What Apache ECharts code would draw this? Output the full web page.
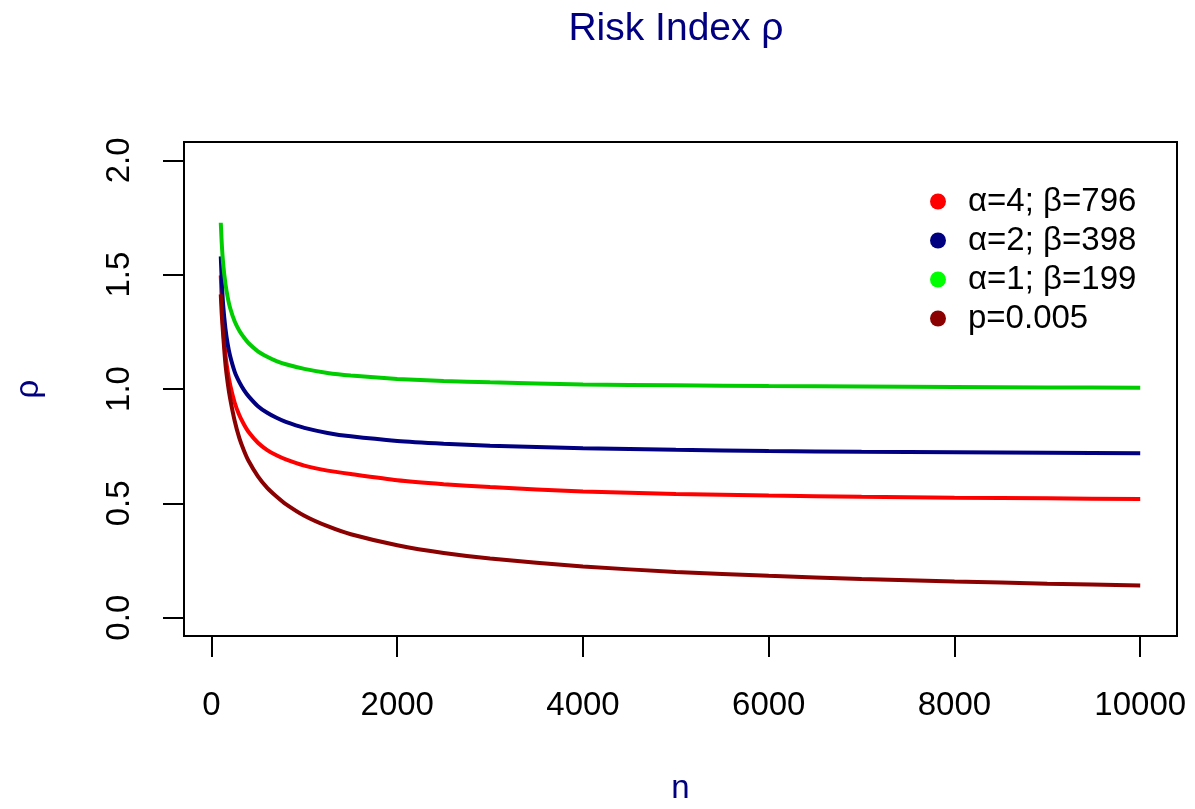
<!DOCTYPE html>
<html>
<head>
<meta charset="utf-8">
<title>Risk Index</title>
<script src="https://cdn.jsdelivr.net/npm/echarts@6.0.0/dist/echarts.min.js"></script>
<style>
  html, body { margin: 0; padding: 0; background: #fff; }
  #chart { width: 1195px; height: 809px; }
</style>
</head>
<body>
<div id="chart"></div>
<script>
// sample sizes n
var nValues = [100, 110, 125, 150, 175, 200, 250, 300, 350, 400, 500, 600, 700, 800,
  1000, 1250, 1500, 2000, 2500, 3000, 4000, 5000, 6000, 7000, 8000, 9000, 10000];

// rho
var rhoA4 = [1.497, 1.39, 1.27, 1.15, 1.075, 1.02, 0.94, 0.885, 0.845, 0.812, 0.765, 0.733, 0.71, 0.692,
  0.665, 0.643, 0.628, 0.601, 0.584, 0.571, 0.552, 0.541, 0.534, 0.529, 0.525, 0.522, 0.519];
var rhoA2 = [1.58, 1.48, 1.37, 1.265, 1.195, 1.145, 1.075, 1.03, 0.995, 0.968, 0.925, 0.896, 0.874, 0.856,
  0.830, 0.808, 0.793, 0.773, 0.761, 0.752, 0.741, 0.734, 0.729, 0.7255, 0.723, 0.721, 0.719];
var rhoA1 = [1.727, 1.64, 1.55, 1.46, 1.40, 1.355, 1.295, 1.255, 1.225, 1.20, 1.165, 1.141, 1.122, 1.108,
  1.088, 1.070, 1.059, 1.044, 1.035, 1.029, 1.020, 1.016, 1.013, 1.011, 1.009, 1.007, 1.005];
var rhoP = [1.414, 1.33, 1.24, 1.11, 1.025, 0.96, 0.86, 0.785, 0.73, 0.685, 0.618, 0.568, 0.53, 0.497,
  0.446, 0.40, 0.365, 0.317, 0.283, 0.259, 0.224, 0.200, 0.183, 0.169, 0.158, 0.149, 0.141];

var seriesNames = ["α=4; β=796", "α=2; β=398", "α=1; β=199", "p=0.005"];
var xTicks = [0, 2000, 4000, 6000, 8000, 10000];
var yTicks = [0, 0.5, 1, 1.5, 2];

var lineColors = ["#ff0000", "#000080", "#00cd00", "#8b0000"];
var dotColors = ["#ff0000", "#000080", "#00ff00", "#8b0000"];
var font = "Liberation Sans, Arial, Helvetica, sans-serif";

function pairs(ys) {
  return nValues.map(function (n, i) { return [n, ys[i]]; });
}

var myChart = echarts.init(document.getElementById("chart"));
var allData = [rhoA4, rhoA2, rhoA1, rhoP];

myChart.setOption({
  animation: false,
  backgroundColor: "#fff",
  title: {
    text: "Risk Index ρ",
    left: 676,
    top: 10,
    padding: 0,
    textAlign: "center",
    textStyle: { color: "#000080", fontSize: 39, fontWeight: "normal", fontFamily: font }
  },
  grid: {
    left: 184,
    right: 18,
    top: 142,
    bottom: 173,
    outerBoundsMode: "none",
    show: true,
    borderColor: "#000",
    borderWidth: 2
  },
  legend: {
    orient: "vertical",
    left: 925,
    top: 180,
    icon: "circle",
    itemWidth: 16,
    itemHeight: 16,
    itemGap: 6,
    textStyle: { color: "#000", fontSize: 33, lineHeight: 33, fontFamily: font, padding: [0, 0, 0, 17] },
    data: seriesNames.map(function (s, i) {
      return { name: s, itemStyle: { color: dotColors[i] } };
    })
  },
  xAxis: {
    type: "value",
    min: -296,
    max: 10396,
    name: "n",
    nameLocation: "middle",
    nameGap: 136,
    nameTextStyle: { color: "#000080", fontSize: 33, fontFamily: font },
    splitLine: { show: false },
    axisLine: { show: false, onZero: false },
    axisTick: {
      show: true, inside: false, length: 21, customValues: xTicks,
      lineStyle: { color: "#000", width: 2 }
    },
    axisLabel: {
      customValues: xTicks, margin: 53, color: "#000", fontSize: 33, fontFamily: font,
      formatter: function (v) { return String(v); }
    }
  },
  yAxis: {
    type: "value",
    min: -0.08,
    max: 2.08,
    name: "ρ",
    nameLocation: "middle",
    nameRotate: 90,
    nameGap: 139,
    nameTextStyle: { color: "#000080", fontSize: 33, fontFamily: font },
    splitLine: { show: false },
    axisLine: { show: false, onZero: false },
    axisTick: {
      show: true, inside: false, length: 21, customValues: yTicks,
      lineStyle: { color: "#000", width: 2 }
    },
    axisLabel: {
      customValues: yTicks, rotate: 90, margin: 48, color: "#000", fontSize: 33, fontFamily: font,
      formatter: function (v) { return v.toFixed(1); }
    }
  },
  series: seriesNames.map(function (s, i) {
    return {
      name: s,
      type: "line",
      data: pairs(allData[i]),
      showSymbol: false,
      smooth: 0.2,
      color: lineColors[i],
      lineStyle: { width: 4, color: lineColors[i] }
    };
  })
});
</script>
</body>
</html>
